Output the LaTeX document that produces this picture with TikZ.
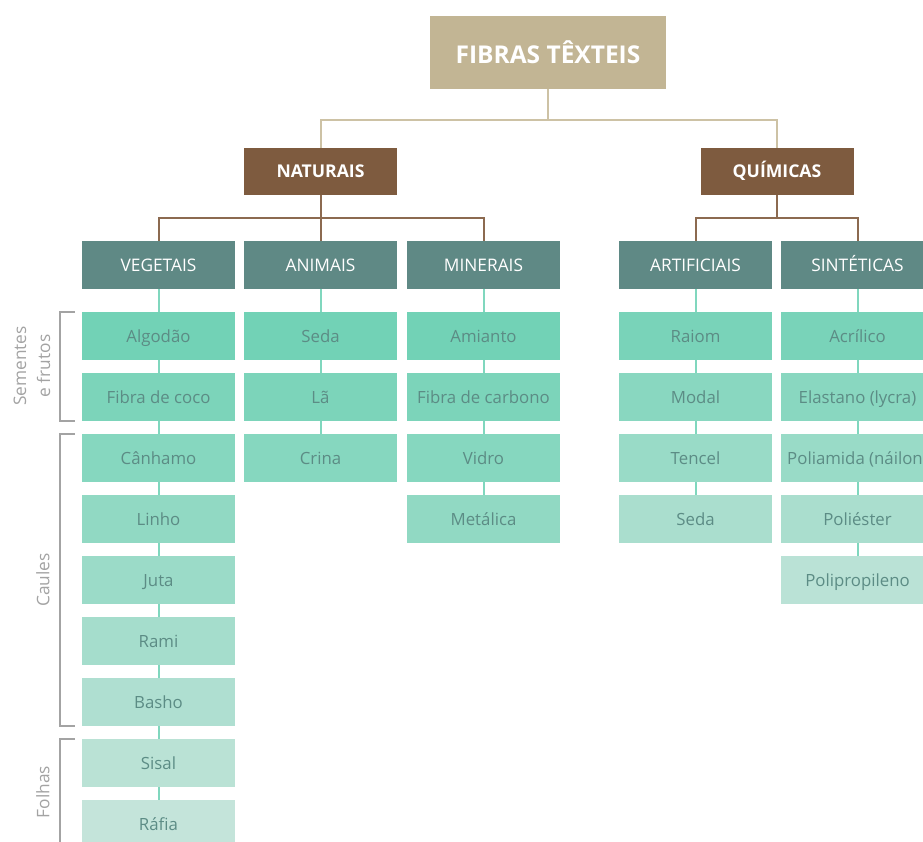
\documentclass[tikz,border=0pt]{standalone}
\usepackage{fontspec}
\setmainfont{Open Sans}
\usepackage{xcolor}
\usetikzlibrary{positioning, calc}

\definecolor{clrRoot}{HTML}{C2B594}
\definecolor{clrRootLine}{HTML}{CDC2A5}
\definecolor{clrKind}{HTML}{7E5B3F}
\definecolor{clrKindLine}{HTML}{8C6A50}
\definecolor{clrCat}{HTML}{5F8985}
\definecolor{clrLeafTop}{HTML}{72D2B6}
\definecolor{clrLeafEnd}{HTML}{C4E4DA}
\definecolor{clrLeafText}{HTML}{5C8C85}
\definecolor{clrLeafLine}{HTML}{80D7BE}
\definecolor{clrBracket}{HTML}{A3A3A3}

\begin{document}
\begin{tikzpicture}[
        x=1pt, y=-1pt,
        font=\fontsize{16.8}{20}\selectfont,
        box/.style={minimum width=153pt, minimum height=48pt, inner sep=0pt, anchor=center,
            text height=12pt, text depth=0pt},
        rootbox/.style={box, fill=clrRoot, text=white, minimum width=236pt, minimum height=73pt,
            text height=21pt, font=\fontsize{24.5}{28}\selectfont\bfseries},
        kindbox/.style={box, fill=clrKind, text=white, minimum height=47pt,
            font=\fontsize{17.6}{20}\selectfont\bfseries},
        catbox/.style={box, fill=clrCat, text=white, font=\fontsize{17.3}{20}\selectfont},
        leafbox/.style={box, text=clrLeafText},
        rootline/.style={draw=clrRootLine, line width=2pt},
        kindline/.style={draw=clrKindLine, line width=2pt},
        leafline/.style={draw=clrLeafLine, line width=2pt},
        brk/.style={draw=clrBracket, line width=1.5pt},
        side/.style={rotate=90, text=clrBracket, align=center, font=\fontsize{17.3}{24}\selectfont}
    ]
    \useasboundingbox (0,0) rectangle (923,841);

    % top levels
    \node[rootbox] (root) at (548,52.5) {FIBRAS TÊXTEIS};
    \node[kindbox] (nat) at (320.5,171.5) {NATURAIS};
    \node[kindbox] (qui) at (777,171.5) {QUÍMICAS};

    \node[catbox, alias=veg0] (veg) at (158.5,265) {VEGETAIS};
    \node[catbox, alias=ani0] (ani) at (320.5,265) {ANIMAIS};
    \node[catbox, alias=min0] (min) at (483.5,265) {MINERAIS};
    \node[catbox, alias=art0] (art) at (695.5,265) {ARTIFICIAIS};
    \node[catbox, alias=sin0] (sin) at (857.5,265) {SINTÉTICAS};

    \draw[rootline] (root.south) -- ++(0,31) coordinate (split) -| (nat.north);
    \draw[rootline] (split) -| (qui.north);

    \draw[kindline] (nat.south) -- ++(0,23) coordinate (natsplit) -| (veg.north);
    \draw[kindline] (natsplit) -| (min.north);
    \draw[kindline] (nat.south) -- (ani.north);
    \draw[kindline] (qui.south) -- ++(0,23) coordinate (quisplit) -| (art.north);
    \draw[kindline] (quisplit) -| (sin.north);

    % leaf columns
    \foreach \col/\cx/\pstart/\pstep/\items in {
        veg/158.5/0/12.5/{Algodão,Fibra de coco,Cânhamo,Linho,Juta,Rami,Basho,Sisal,Ráfia},
        ani/320.5/0/12.5/{Seda,Lã,Crina},
        min/483.5/0/12.5/{Amianto,Fibra de carbono,Vidro,Metálica},
        art/695.5/8/20/{Raiom,Modal,Tencel,Seda},
        sin/857.5/8/20/{Acrílico,Elastano (lycra),Poliamida (náilon),Poliéster,Polipropileno}} {
        \foreach \name [count=\i] in \items {
            \pgfmathsetmacro\p{\pstart+(\i-1)*\pstep}
            \pgfmathtruncatemacro\prev{\i-1}
            \node[leafbox, fill=clrLeafEnd!\p!clrLeafTop] (\col\i) at ({\cx},{336+61*(\i-1)}) {\makebox[0pt]{\name}};
            \draw[leafline] (\col\prev.south) -- (\col\i.north);
        }
    }

    % brackets on the left
    \draw[brk] ([xshift=-7]veg1.north west) -- ++(-15,0) |- ([xshift=-7]veg2.south west);
    \draw[brk] ([xshift=-7]veg3.north west) -- ++(-15,0) |- ([xshift=-7]veg7.south west);
    \draw[brk] ([xshift=-7]veg8.north west) -- ++(-15,0) -- ++(0,120);

    \node[side] (lbsem) at (32,366) {Sementes\\e frutos};
    \node[side] (lbcau) at (43,580) {Caules};
    \node[side] (lbfol) at (43,792) {Folhas};
\end{tikzpicture}
\end{document}
